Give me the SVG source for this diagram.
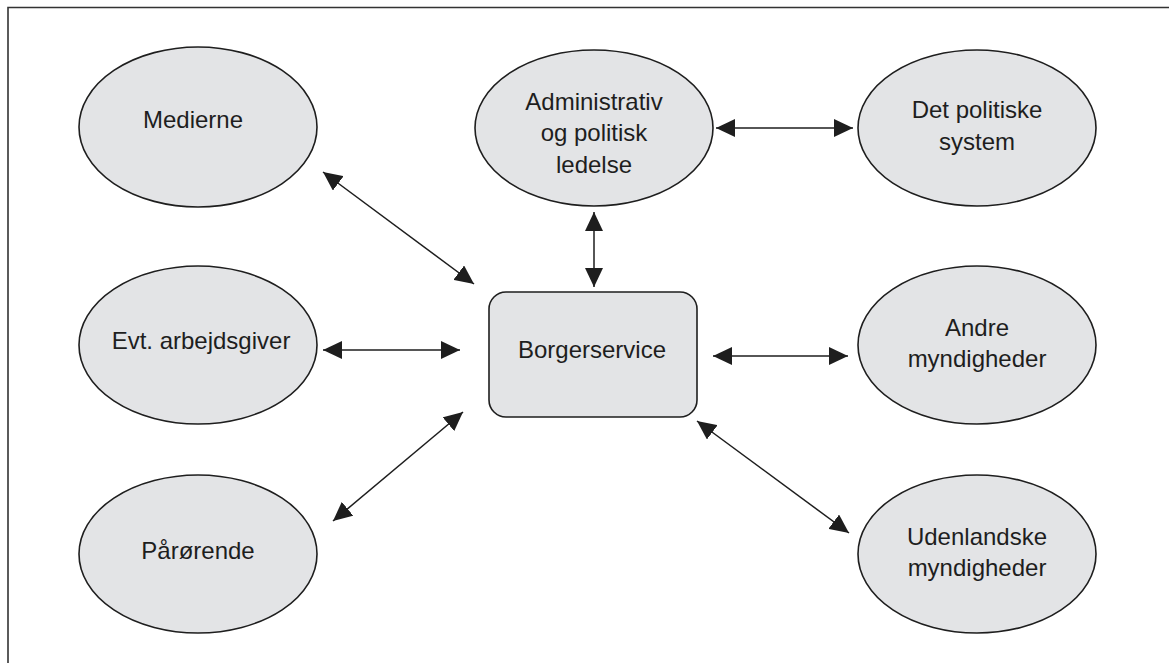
<svg xmlns="http://www.w3.org/2000/svg" width="1169" height="663" viewBox="0 0 1169 663">
<style>
.n{fill:#e3e4e6;stroke:#1e1e1e;stroke-width:1.6}
.t{font-family:"Liberation Sans",Arial,sans-serif;font-size:24px;fill:#1e1e1e;text-anchor:middle}
.c{stroke:#1e1e1e;stroke-width:1.5;fill:none;marker-start:url(#ah);marker-end:url(#ah)}
</style>
<defs>
<marker id="ah" viewBox="0 0 19 18" refX="19" refY="9" markerWidth="19" markerHeight="18" markerUnits="userSpaceOnUse" orient="auto-start-reverse">
<path d="M0,0 L19,9 L0,18 z" fill="#1e1e1e"/>
</marker>
</defs>
<rect width="1169" height="663" fill="#fff"/>
<path d="M8,663 V7.5 H1169" fill="none" stroke="#333" stroke-width="1.6"/>
<g id="medierne"><ellipse class="n" cx="198" cy="127" rx="119" ry="80"/><text class="t" x="193" y="128">Medierne</text></g>
<g id="admin"><ellipse class="n" cx="594" cy="128" rx="119" ry="78"/><text class="t" x="594" y="110">Administrativ</text><text class="t" x="594" y="141">og politisk</text><text class="t" x="594" y="173">ledelse</text></g>
<g id="detpolitiske"><ellipse class="n" cx="977" cy="128" rx="119" ry="78"/><text class="t" x="977" y="118">Det politiske</text><text class="t" x="977" y="150">system</text></g>
<g id="evt"><ellipse class="n" cx="198" cy="345" rx="119" ry="79"/><text class="t" x="201" y="349">Evt. arbejdsgiver</text></g>
<g id="borgerservice"><rect class="n" x="489" y="292" width="208" height="125" rx="17"/><text class="t" x="592" y="358">Borgerservice</text></g>
<g id="andre"><ellipse class="n" cx="977" cy="345" rx="119" ry="79"/><text class="t" x="977" y="336">Andre</text><text class="t" x="977" y="367">myndigheder</text></g>
<g id="paaroerende"><ellipse class="n" cx="198" cy="554" rx="119" ry="79"/><text class="t" x="198" y="559">Pårørende</text></g>
<g id="udenlandske"><ellipse class="n" cx="977" cy="554" rx="119" ry="79"/><text class="t" x="977" y="545">Udenlandske</text><text class="t" x="977" y="576">myndigheder</text></g>
<g id="connectors">
<line class="c" x1="323" y1="172" x2="474" y2="284"/>
<line class="c" x1="716" y1="128" x2="853" y2="128"/>
<line class="c" x1="594" y1="212" x2="594" y2="287"/>
<line class="c" x1="323" y1="350" x2="460" y2="350"/>
<line class="c" x1="713" y1="356" x2="848" y2="356"/>
<line class="c" x1="333" y1="521" x2="463" y2="412"/>
<line class="c" x1="697" y1="421" x2="849" y2="533"/>
</g>
</svg>
